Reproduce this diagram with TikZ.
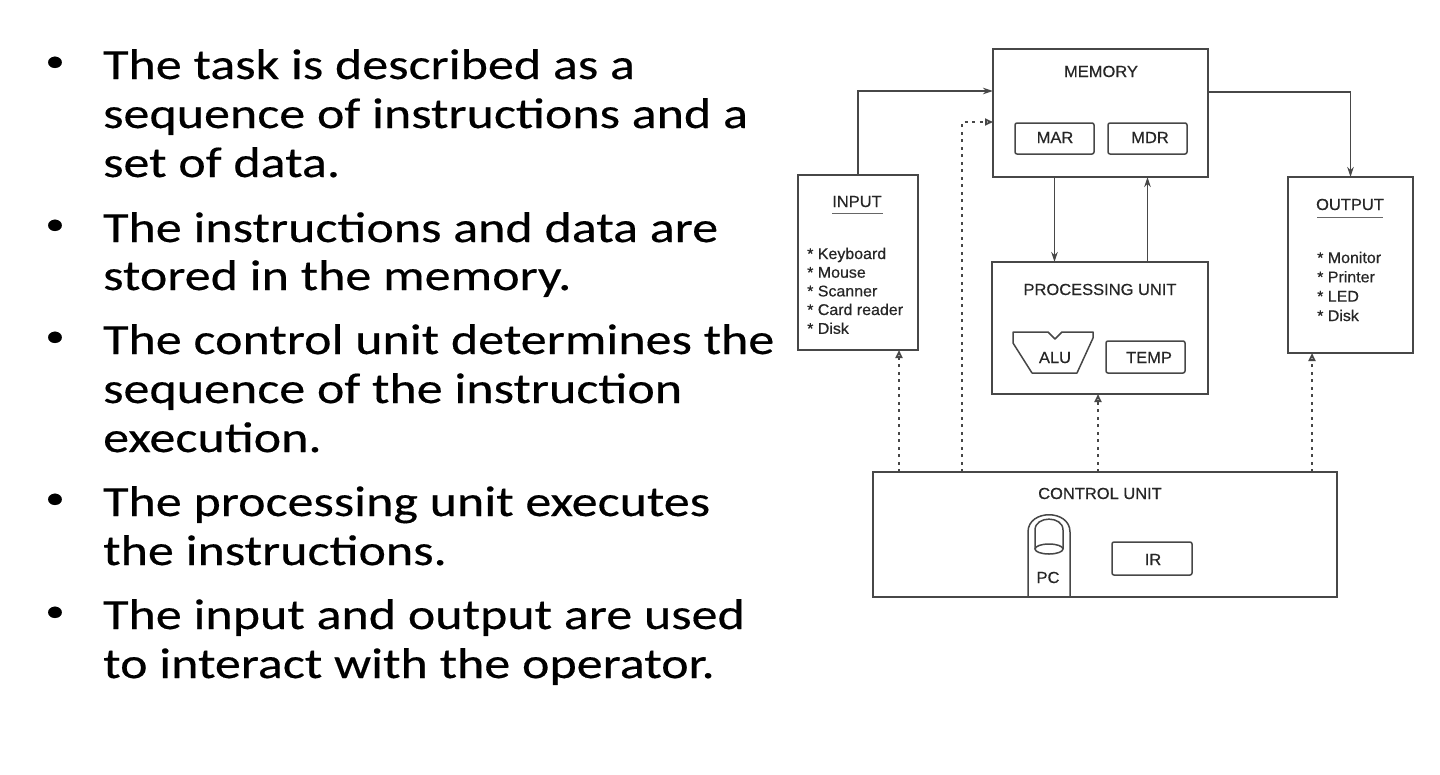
\documentclass[tikz,border=0pt]{standalone}
\usepackage{fontspec}
\setmainfont{Carlito}[FakeStretch=1.21,FakeBold=0.35]
\newfontfamily\dfont{Liberation Sans}[FakeStretch=1.03,FakeBold=0.5]
\usetikzlibrary{arrows.meta}
\begin{document}
\begin{tikzpicture}[x=1pt,y=-1pt,
  ln/.style={line width=1.5pt, draw=black!72},
  box/.style={ln, rectangle, inner sep=0pt, outer sep=0pt},
  ibox/.style={box, rounded corners=2pt},
  ttl/.style={anchor=base, inner sep=0pt, font=\dfont\fontsize{16}{18}\selectfont, text=black!85},
  itm/.style={anchor=base west, inner sep=0pt, font=\dfont\fontsize{15.5}{18}\selectfont, text=black!85},
  bl/.style={anchor=base west, inner sep=0pt, font=\fontsize{43}{49}\selectfont},
  bul/.style={anchor=center, inner sep=0pt, font=\fontsize{32}{36}\selectfont},
  arr/.style={-{Stealth[length=10pt,width=6.5pt]}},
  oarr/.style={-{Triangle[open,length=8pt,width=7pt]}},
  dsh/.style={ln, line width=1.8pt, dash pattern=on 3pt off 4.5pt}
]
\useasboundingbox[fill=white] (0,0) rectangle (1440,774);

% ---------- bullet text ----------
\node[bul] (b1) at (55,64) {•};
\node[bl] (t11) at (103,79) {The task is described as a};
\node[bl] (t12) at (103,128) {sequence of instructions and a};
\node[bl] (t13) at (103,177) {set of data.};
\node[bul] (b2) at (55,227) {•};
\node[bl] (t21) at (103,242) {The instructions and data are};
\node[bl] (t22) at (103,290) {stored in the memory.};
\node[bul] (b3) at (55,339) {•};
\node[bl] (t31) at (103,354) {The control unit determines the};
\node[bl] (t32) at (103,403) {sequence of the instruction};
\node[bl] (t33) at (103,452) {execution.};
\node[bul] (b4) at (55,501) {•};
\node[bl] (t41) at (103,516) {The processing unit executes};
\node[bl] (t42) at (103,565) {the instructions.};
\node[bul] (b5) at (55,614) {•};
\node[bl] (t51) at (103,629) {The input and output are used};
\node[bl] (t52) at (103,678) {to interact with the operator.};

% ---------- boxes ----------
\node[box, minimum width=215pt, minimum height=128pt] (mem) at (1100.5,113) {};
\node[ibox, minimum width=79pt, minimum height=31pt] (mar) at (1054.5,138.5) {};
\node[ibox, minimum width=79pt, minimum height=31pt] (mdr) at (1147.5,138.5) {};
\node[box, minimum width=120pt, minimum height=175pt] (inp) at (858,262.5) {};
\node[box, minimum width=125pt, minimum height=176pt] (out) at (1350.5,265) {};
\node[box, minimum width=216pt, minimum height=132pt] (pu) at (1100,328) {};
\node[ibox, minimum width=79pt, minimum height=32pt] (temp) at (1145.5,357) {};
\node[box, minimum width=464pt, minimum height=125pt] (cu) at (1105,534.5) {};
\node[ibox, minimum width=80pt, minimum height=33pt] (ir) at (1152,558.5) {};

% ALU shape
\draw[ln, line join=round] (1013,332) -- (1048,332) -- (1055,339) -- (1062,332) -- (1093,332)
  -- (1093,338) -- (1077,373) -- (1032,373) -- (1013,343) -- cycle;
% PC shape
\draw[ln] (1028,597) -- (1028,532) .. controls (1028,509) and (1070,509) .. (1070,532) -- (1070,597);
\draw[ln] (1035,549) -- (1035,530) .. controls (1035,515.5) and (1063,515.5) .. (1063,530) -- (1063,549);
\draw[ln] (1049,549) ellipse [x radius=14pt, y radius=5pt];

% ---------- labels ----------
\node[ttl] (memt) at (1101,77) {MEMORY};
\node[ttl] (mart) at (1055,143) {MAR};
\node[ttl] (mdrt) at (1150,143) {MDR};
\node[ttl] (inpt) at (857,207) {INPUT};
\draw[line width=0.9pt, black!60] (832,213) -- (883,213);
\node[ttl] (outt) at (1350,210) {OUTPUT};
\draw[line width=0.9pt, black!60] (1317,217) -- (1383,217);
\node[ttl] (put) at (1100,295) {PROCESSING UNIT};
\node[ttl] (alut) at (1055,363) {ALU};
\node[ttl] (tempt) at (1149,363) {TEMP};
\node[ttl] (cut) at (1100,499) {CONTROL UNIT};
\node[ttl] (irt) at (1153,565) {IR};
\node[ttl] (pct) at (1048,583) {PC};

\node[itm] (i1) at (807,259) {* Keyboard};
\node[itm] (i2) at (807,277.7) {* Mouse};
\node[itm] (i3) at (807,296.4) {* Scanner};
\node[itm] (i4) at (807,315) {* Card reader};
\node[itm] (i5) at (807,333.8) {* Disk};

\node[itm] (o1) at (1317,263) {* Monitor};
\node[itm] (o2) at (1317,282.3) {* Printer};
\node[itm] (o3) at (1317,301.6) {* LED};
\node[itm] (o4) at (1317,321) {* Disk};

% ---------- connectors ----------
\draw[ln, arr] (inp.north) |- ([yshift=22pt]mem.west);
\draw[ln, arr] ([yshift=21pt]mem.east) -| (out.north);
\draw[ln, arr] (mar.south |- mem.south) -- (mar.south |- pu.north);
\draw[ln, arr] (mdr.south |- pu.north) -- (mdr.south |- mem.south);

\coordinate (d1) at (899,472);
\coordinate (d2) at (962,472);
\coordinate (d3) at (1098,472);
\coordinate (d4) at (1312,472);
\draw[dsh, oarr] (d1) -- (d1 |- inp.south);
\draw[dsh, oarr] (d2) |- ([yshift=-9pt]mem.west);
\draw[dsh, oarr] (d3) -- (d3 |- pu.south);
\draw[dsh, oarr] (d4) -- (d4 |- out.south);
\end{tikzpicture}
\end{document}
